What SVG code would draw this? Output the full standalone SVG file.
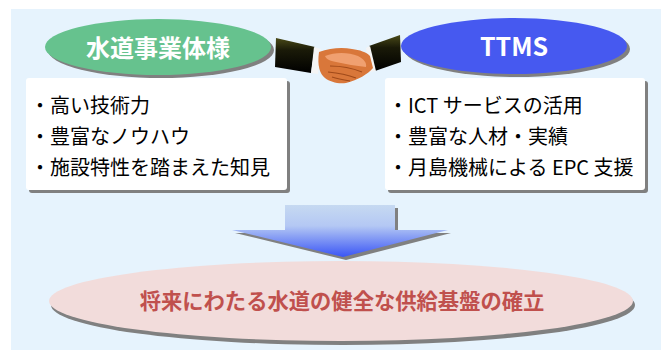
<svg xmlns="http://www.w3.org/2000/svg" width="661" height="350" viewBox="0 0 661 350">
  <defs>
    <linearGradient id="arrowGrad" x1="0" y1="205" x2="0" y2="257" gradientUnits="userSpaceOnUse">
      <stop offset="0" stop-color="#c6d9f1"/>
      <stop offset="0.4" stop-color="#b4c8f4"/>
      <stop offset="1" stop-color="#3a55f5"/>
    </linearGradient>
    <linearGradient id="sleeve" x1="0" y1="0" x2="0" y2="1">
      <stop offset="0" stop-color="#4a4a18"/>
      <stop offset="0.35" stop-color="#1a1a08"/>
      <stop offset="1" stop-color="#000"/>
    </linearGradient>
    <style>
      .shadow { fill: #808080; }
      .box { fill: #ffffff; }
      .title { font-family: "Noto Sans CJK JP", "Noto Sans", sans-serif; font-weight: bold; fill: #ffffff; text-anchor: middle; }
      .item { font-family: "Noto Sans CJK JP", "Noto Sans", sans-serif; font-size: 20px; fill: #000000; }
      .goal { font-family: "Noto Sans CJK JP", "Noto Sans", sans-serif; font-size: 21.3px; font-weight: bold; fill: #c0504d; text-anchor: middle; }
      .finger { stroke: #a04a1a; stroke-width: 1.2; fill: none; }
    </style>
  </defs>

  <!-- background panel -->
  <rect x="11" y="9" width="650" height="341" fill="#e6f3fd"/>

  <!-- left partner -->
  <g id="water-utility">
    <ellipse cx="161" cy="50" rx="113" ry="28" class="shadow"/>
    <ellipse cx="158" cy="47" rx="113" ry="28" fill="#66c28e"/>
    <text x="158" y="57" class="title" font-size="24">水道事業体様</text>
  </g>

  <g id="water-utility-points">
    <rect x="29" y="81" width="261" height="112" rx="3" class="shadow"/>
    <rect x="26" y="78" width="261" height="112" rx="3" class="box"/>
    <text x="30" y="113" class="item">・高い技術力</text>
    <text x="30" y="144" class="item">・豊富なノウハウ</text>
    <text x="30" y="175" class="item">・施設特性を踏まえた知見</text>
  </g>

  <!-- right partner -->
  <g id="ttms">
    <ellipse cx="517" cy="49" rx="113" ry="28" class="shadow"/>
    <ellipse cx="514" cy="46" rx="113" ry="28" fill="#4659f0"/>
    <text x="514" y="56" class="title" font-size="25" font-family="'Liberation Sans', sans-serif">TTMS</text>
  </g>

  <g id="ttms-points">
    <rect x="388" y="81" width="260" height="112" rx="3" class="shadow"/>
    <rect x="385" y="78" width="260" height="112" rx="3" class="box"/>
    <text x="388" y="113" class="item">・ICT サービスの活用</text>
    <text x="388" y="144" class="item">・豊富な人材・実績</text>
    <text x="388" y="175" class="item">・月島機械による EPC 支援</text>
  </g>

  <!-- handshake between the partners -->
  <g id="handshake">
    <polygon points="276,38 315,47 311,73 275,67" fill="url(#sleeve)"/>
    <polygon points="314,47 321,49 318,74 311,73" fill="#f4f4f4"/>
    <polygon points="369,46 400,35 401,62 375,71" fill="url(#sleeve)"/>
    <polygon points="366,48 370,46 376,71 370,72" fill="#f4f4f4"/>
    <path d="M319,52 C330,48 342,47 352,49 C360,50 366,52 370,56 L373,68 C368,74 358,80 346,83 C338,84 330,82 325,78 C320,74 317,66 319,52 Z" fill="#d9773a"/>
    <path d="M325,56 C335,52 348,52 358,56 C364,59 367,63 366,67 C356,66 346,64 336,62 C330,61 326,59 325,56 Z" fill="#f0a070"/>
    <path d="M330,66 C340,66 352,68 362,72 M328,72 C338,73 348,75 356,78 M332,77 C338,79 344,80 350,81" class="finger"/>
  </g>

  <!-- downward arrow -->
  <g id="connectors">
    <polygon points="288,208 398,208 398,233 451,233 346,260 235,233 288,233" class="shadow"/>
    <polygon points="285,205 395,205 395,230 448,230 343,257 232,230 285,230" fill="url(#arrowGrad)"/>
  </g>

  <!-- shared goal -->
  <g id="goal">
    <ellipse cx="343" cy="305" rx="292" ry="40" class="shadow"/>
    <ellipse cx="341" cy="301" rx="292" ry="40" fill="#f2dcdb"/>
    <text x="342" y="309" class="goal">将来にわたる水道の健全な供給基盤の確立</text>
  </g>
</svg>
